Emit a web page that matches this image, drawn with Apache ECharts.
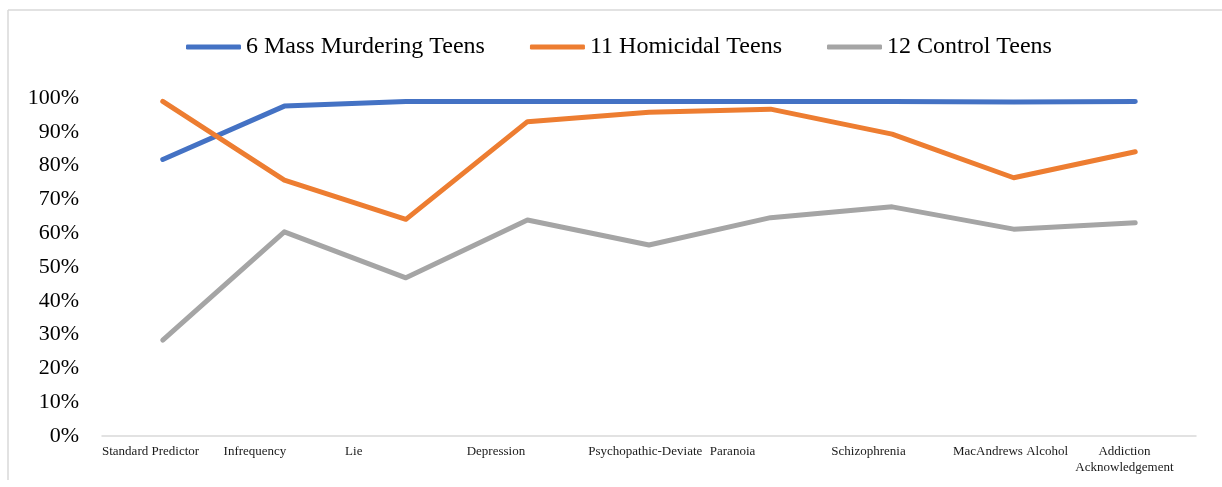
<!DOCTYPE html>
<html>
<head>
<meta charset="utf-8">
<title>MMPI-A scale scores by group</title>
<script src="https://cdn.jsdelivr.net/npm/echarts@6/dist/echarts.min.js"></script>
<style>
  html, body { margin: 0; padding: 0; background: #fff; }
  #chart { width: 1222px; height: 487px; }
</style>
</head>
<body>
<div id="chart"></div>
<script>
// MMPI-A scales on the horizontal axis
const categories = [
  'Standard Predictor', 'Infrequency', 'Lie', 'Depression',
  'Psychopathic-Deviate', 'Paranoia', 'Schizophrenia',
  'MacAndrews Alcohol', 'Addiction Acknowledgement'
];

// Percent of each group flagged on the scale
const seriesNames = ['6 Mass Murdering Teens', '11 Homicidal Teens', '12 Control Teens'];
const massMurdering = [81.8, 97.6, 99, 99, 99, 99, 99, 98.8, 99];
const homicidal     = [99, 75.7, 64.1, 93, 95.8, 96.7, 89.3, 76.4, 84.1];
const control       = [28.4, 60.4, 46.8, 63.9, 56.5, 64.6, 67.8, 61.2, 63.1];

const yTicks = { min: 0, max: 100, step: 10 };

const serif = '"Liberation Serif", "Times New Roman", serif';
const colors = ['#4472C4', '#ED7D31', '#A5A5A5'];
const seriesData = [massMurdering, homicidal, control];

const chart = echarts.init(document.getElementById('chart'), null, { renderer: 'canvas' });

chart.setOption({
  animation: false,
  color: colors,
  graphic: [
    // outer chart frame (top and left edges)
    { type: 'line', shape: { x1: 8, y1: 10, x2: 1222, y2: 10 }, style: { stroke: '#D9D9D9', lineWidth: 1.5 } },
    { type: 'line', shape: { x1: 8, y1: 10, x2: 8, y2: 480 }, style: { stroke: '#D9D9D9', lineWidth: 1.5 } }
  ],
  legend: {
    data: seriesNames,
    left: 181,
    top: 30,
    icon: 'roundRect',
    itemWidth: 55,
    itemHeight: 5,
    itemGap: 45,
    textStyle: { fontFamily: serif, fontSize: 24, color: '#000' }
  },
  grid: { left: 102, right: 26, top: 98, bottom: 51, containLabel: false },
  xAxis: [
    {
      type: 'category',
      data: categories,
      boundaryGap: true,
      position: 'bottom',
      axisLine: { show: true, lineStyle: { color: '#D9D9D9', width: 1.5 } },
      axisTick: { show: false },
      axisLabel: { show: false },
      splitLine: { show: false }
    },
    {
      // category names, left-aligned at the start of each band
      type: 'value',
      position: 'bottom',
      min: 0,
      max: categories.length,
      interval: 1,
      axisLine: { show: false },
      axisTick: { show: false },
      splitLine: { show: false },
      axisLabel: {
        align: 'left',
        margin: 8,
        fontFamily: serif,
        fontSize: 13,
        lineHeight: 15.5,
        color: '#1a1a1a',
        showMaxLabel: true,
        formatter: function (v) {
          const name = categories[Math.round(v)];
          if (!name) return '';
          if (name.length > 20 && name.indexOf(' ') > 0) {
            const i = name.indexOf(' ');
            return '{w|' + name.slice(0, i) + '}\n{w|' + name.slice(i + 1) + '}';
          }
          return name;
        },
        rich: {
          w: { width: 100, align: 'center', fontFamily: serif, fontSize: 13, lineHeight: 15.5, color: '#1a1a1a' }
        }
      }
    }
  ],
  yAxis: {
    type: 'value',
    min: yTicks.min,
    max: yTicks.max,
    interval: yTicks.step,
    axisLine: { show: false },
    axisTick: { show: false },
    splitLine: { show: false },
    axisLabel: {
      margin: 23,
      fontFamily: serif,
      fontSize: 22,
      color: '#000',
      formatter: '{value}%'
    }
  },
  series: seriesNames.map(function (name, i) {
    return {
      name: name,
      type: 'line',
      xAxisIndex: 0,
      data: seriesData[i],
      symbol: 'none',
      smooth: false,
      lineStyle: { width: 5, color: colors[i], cap: 'round', join: 'round' },
      itemStyle: { color: colors[i] }
    };
  })
});
</script>
</body>
</html>
